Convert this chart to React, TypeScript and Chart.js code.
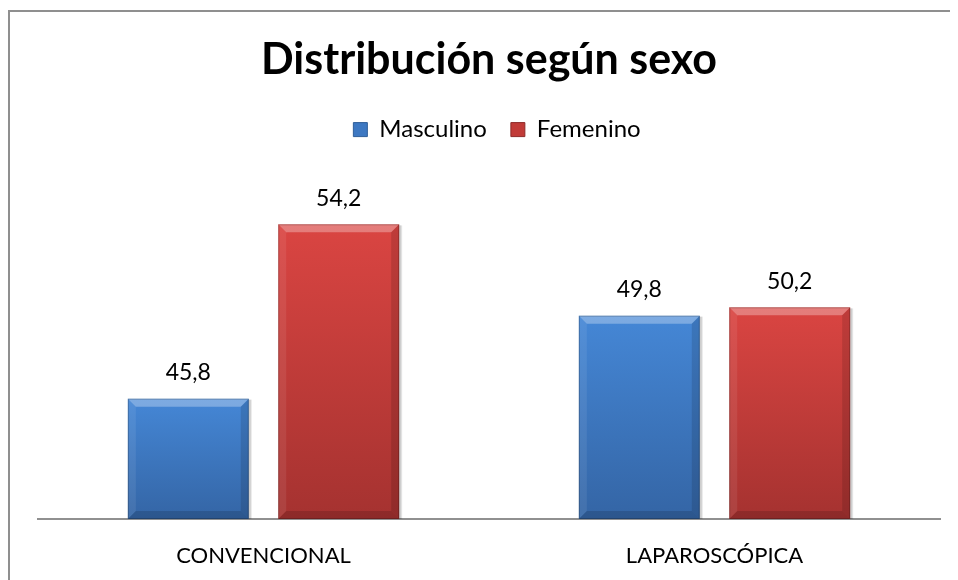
import React, { useEffect, useRef } from "react";
import { Chart, registerables } from "chart.js";
Chart.register(...registerables);

const categories = ["CONVENCIONAL", "LAPAROSCÓPICA"];
const seriesNames = ["Masculino", "Femenino"];
const masculino = [45.8, 49.8];
const femenino = [54.2, 50.2];
const chartTitle = "Distribución según sexo";
const yMin = 40;
const yMax = 56;

const FONT = "Lato, 'Open Sans', sans-serif";

const palettes = [
  { top: "#4587D6", bottom: "#3465A5", legend: "#3D78C2", edge: "#2F5E99" },
  { top: "#DA4542", bottom: "#A53230", legend: "#C13B38", edge: "#8E2B29" },
];

function poly(c: CanvasRenderingContext2D, pts: number[][], fill: string) {
  c.beginPath();
  c.moveTo(pts[0][0], pts[0][1]);
  for (let i = 1; i < pts.length; i++) c.lineTo(pts[i][0], pts[i][1]);
  c.closePath();
  c.fillStyle = fill;
  c.fill();
}

function barBox(chart: any, bar: any) {
  const { x, y, base, width } = bar.getProps(["x", "y", "base", "width"], true);
  const area = chart.chartArea;
  const t = Math.max(Math.min(y, base), area.top);
  const b = Math.min(Math.max(y, base), area.bottom);
  return { x, l: x - width / 2, r: x + width / 2, t, b, width };
}

const barDecor = {
  id: "barDecor",
  beforeDatasetsDraw(chart: any) {
    const c: CanvasRenderingContext2D = chart.ctx;
    c.save();
    chart.data.datasets.forEach((_ds: any, di: number) => {
      chart.getDatasetMeta(di).data.forEach((bar: any) => {
        const { l, t, b, width } = barBox(chart, bar);
        c.fillStyle = "rgba(0,0,0,0.10)";
        c.fillRect(l + 1, t + 1, width + 2, b - t - 1);
        c.fillStyle = "rgba(0,0,0,0.10)";
        c.fillRect(l + 1, t + 1, width + 1, b - t - 1);
      });
    });
    c.restore();
  },
  afterDatasetsDraw(chart: any) {
    const c: CanvasRenderingContext2D = chart.ctx;
    c.save();
    chart.data.datasets.forEach((ds: any, di: number) => {
      const meta = chart.getDatasetMeta(di);
      meta.data.forEach((bar: any, i: number) => {
        const { x, l, r, t, b, width } = barBox(chart, bar);
        const bv = 8;
        poly(c, [[l, t], [r, t], [r - bv, t + bv], [l + bv, t + bv]], "rgba(255,255,255,0.30)");
        poly(c, [[l, t], [l + bv, t + bv], [l + bv, b - bv], [l, b]], "rgba(255,255,255,0.08)");
        poly(c, [[r, t], [r, b], [r - bv, b - bv], [r - bv, t + bv]], "rgba(0,0,0,0.12)");
        poly(c, [[l, b], [l + bv, b - bv], [r - bv, b - bv], [r, b]], "rgba(0,0,0,0.14)");
        c.strokeStyle = "rgba(0,0,0,0.22)";
        c.lineWidth = 1;
        c.strokeRect(l + 0.5, t + 0.5, width - 1, b - t - 1);
        const v = ds.data[i] as number;
        c.fillStyle = "#000";
        c.font = `23px ${FONT}`;
        c.textAlign = "center";
        c.textBaseline = "middle";
        c.fillText(v.toFixed(1).replace(".", ","), x, t - 26);
      });
    });
    c.restore();
  },
};

const legendSpace = {
  id: "legendSpace",
  beforeInit(chart: any) {
    const lg = chart.legend;
    if (!lg) return;
    const orig = lg.fit;
    lg.fit = function () {
      orig.call(this);
      this.height = 93.4;
      if (this.lineWidths && this.lineWidths.length) this.lineWidths[0] -= 16;
    };
  },
};

export default function App() {
  const ref = useRef<HTMLCanvasElement>(null);
  useEffect(() => {
    document.documentElement.style.overflow = "hidden";
    document.body.style.overflow = "hidden";
    if (!ref.current) return;
    const seriesValues = [masculino, femenino];
    const chart = new Chart(ref.current, {
      type: "bar",
      data: {
        labels: categories,
        datasets: seriesNames.map((name, di) => ({
          label: name,
          data: seriesValues[di],
          backgroundColor: (ctx: any) => {
            const p = palettes[di];
            const ch = ctx.chart;
            const area = ch.chartArea;
            if (!area) return p.top;
            const ys = ch.scales?.y;
            const topPx = ys && ctx.raw != null ? ys.getPixelForValue(ctx.raw) : area.top;
            const g = ch.ctx.createLinearGradient(0, topPx, 0, area.bottom);
            g.addColorStop(0, p.top);
            g.addColorStop(1, p.bottom);
            return g;
          },
          borderWidth: 0,
          categoryPercentage: 0.667,
          barPercentage: 0.804,
        })),
      },
      options: {
        animation: false,
        responsive: false,
        layout: { padding: { left: 30, right: 18, top: 0, bottom: 0 } },
        plugins: {
          title: {
            display: true,
            text: chartTitle,
            color: "#000",
            font: { family: FONT, size: 43, weight: "bold" },
            padding: { top: 26, bottom: 8 },
          },
          legend: {
            display: true,
            labels: {
              color: "#000",
              font: { family: FONT, size: 24 },
              boxWidth: 14,
              boxHeight: 14,
              padding: 24,
              generateLabels: (ch: any) =>
                ch.data.datasets.map((ds: any, i: number) => ({
                  text: ds.label,
                  fillStyle: palettes[i].legend,
                  strokeStyle: palettes[i].edge,
                  lineWidth: 1,
                  hidden: false,
                  datasetIndex: i,
                  fontColor: "#000",
                })),
            },
          },
          tooltip: { enabled: false },
        },
        scales: {
          x: {
            grid: { display: false, drawTicks: false },
            border: { display: true, color: "#909090", width: 2 },
            ticks: { color: "#000", font: { family: FONT, size: 22 }, padding: 24 },
            afterFit: (s: any) => {
              s.height = 61;
            },
          },
          y: {
            display: false,
            min: yMin,
            max: yMax,
          },
        },
      },
      plugins: [barDecor, legendSpace],
    } as any);
    return () => chart.destroy();
  }, []);

  return (
    <div style={{ position: "relative", width: 950, height: 572, overflow: "hidden" }}>
      <div
        style={{
          position: "absolute",
          left: 0,
          top: 2,
          width: 1200,
          height: 1200,
          borderTop: "2px solid #8f8f8f",
          borderLeft: "2px solid #8f8f8f",
        }}
      />
      <canvas ref={ref} width={950} height={572} style={{ position: "absolute", left: 0, top: 0 }} />
    </div>
  );
}
